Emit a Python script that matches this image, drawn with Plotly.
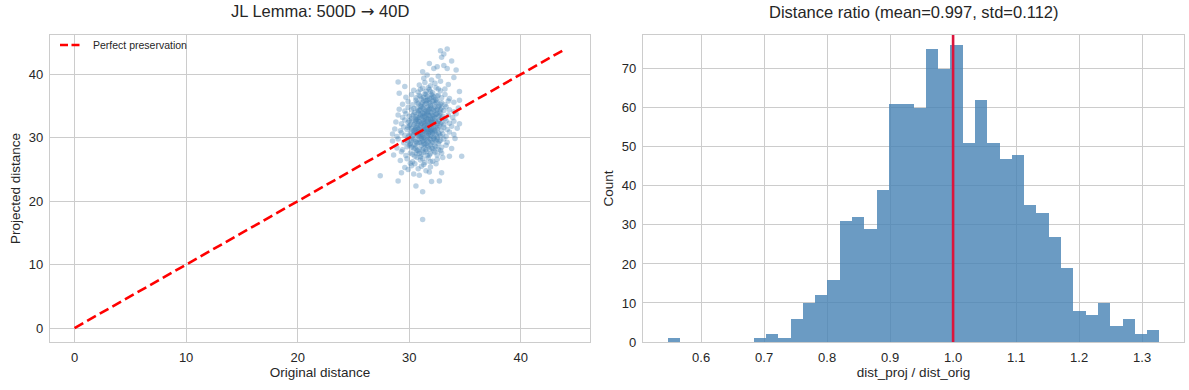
import plotly.graph_objects as go

# ---------------- data ----------------
orig_dist = [
    31.2, 31.2, 30.6,
    29.0, 32.7, 32.0, 27.4,
    29.3, 32.9, 30.4, 31.5, 30.9, 31.8,
    29.6, 30.2, 30.8, 31.3, 31.9, 32.4, 30.5, 31.1, 29.9,
    29.2, 29.8, 30.3, 30.7, 31.0, 31.4, 31.7, 32.1, 32.5, 33.0, 30.1, 31.2, 31.9,
    28.6, 29.3, 29.7, 30.1, 30.5, 30.8, 31.1, 31.3, 31.6, 31.9, 32.2, 32.5, 32.9, 33.6, 34.7, 30.3, 31.5, 30.9,
    28.9, 29.4, 29.8, 30.1, 30.4, 30.6, 30.9, 31.1, 31.3, 31.5, 31.7, 31.9, 32.1, 32.3, 32.6, 32.9, 33.3, 33.8, 30.2, 31.4, 31.8, 30.7, 32.4,
    28.5, 29.0, 29.5, 29.8, 30.1, 30.3, 30.6, 30.8, 31.0, 31.2, 31.4, 31.5, 31.7, 31.9, 32.0, 32.2, 32.4, 32.6, 32.8, 33.1, 33.4, 34.1, 30.5, 31.3, 31.8, 30.9, 32.5, 29.9,
    28.5, 28.9, 29.3, 29.6, 29.9, 30.1, 30.3, 30.5, 30.7, 30.9, 31.0, 31.2, 31.3, 31.5, 31.6, 31.8, 31.9, 32.1, 32.2, 32.4, 32.6, 32.8, 33.0, 33.3, 33.6, 34.0, 30.4, 31.1, 31.7, 32.3, 30.8,
    28.7, 29.2, 29.5, 29.8, 30.0, 30.2, 30.4, 30.6, 30.8, 30.9, 31.1, 31.2, 31.4, 31.5, 31.6, 31.8, 31.9, 32.0, 32.2, 32.3, 32.5, 32.7, 32.9, 33.1, 33.4, 33.8, 34.3, 30.5, 31.3, 31.7, 32.1, 30.7, 32.4,
    28.8, 29.3, 29.6, 29.9, 30.1, 30.3, 30.5, 30.7, 30.9, 31.0, 31.2, 31.3, 31.5, 31.6, 31.8, 31.9, 32.0, 32.2, 32.3, 32.5, 32.7, 32.9, 33.1, 33.3, 33.6, 34.0, 34.5, 30.6, 31.4, 31.7, 32.1, 30.8, 32.6,
    29.0, 29.4, 29.7, 30.0, 30.2, 30.4, 30.6, 30.8, 31.0, 31.1, 31.3, 31.4, 31.6, 31.7, 31.9, 32.0, 32.1, 32.3, 32.4, 32.6, 32.8, 33.0, 33.2, 33.5, 33.9, 34.2, 30.9, 31.5, 32.2, 31.2, 32.7,
    29.1, 29.6, 29.9, 30.2, 30.5, 30.7, 30.9, 31.1, 31.3, 31.4, 31.6, 31.7, 31.9, 32.0, 32.2, 32.3, 32.5, 32.7, 32.9, 33.1, 33.3, 33.6, 34.0, 34.4, 31.0, 31.8, 32.4,
    29.4, 29.9, 30.3, 30.6, 30.8, 31.0, 31.2, 31.4, 31.6, 31.8, 31.9, 32.1, 32.3, 32.5, 32.7, 32.9, 33.2, 33.5, 34.0, 34.5, 31.5, 32.2,
    29.7, 30.2, 30.6, 30.9, 31.1, 31.4, 31.6, 31.8, 32.0, 32.2, 32.4, 32.6, 32.9, 33.2, 33.6, 31.3, 32.1,
    29.1, 30.4, 30.8, 31.2, 31.5, 31.8, 32.1, 32.4, 32.8, 33.2, 34.5, 31.7,
    29.6, 29.0, 30.9, 31.4, 31.9, 32.3, 32.8, 33.5,
    31.3, 32.0, 32.6, 34.0, 31.6,
    31.2, 32.2, 33.4, 34.2,
    31.8, 33.1, 32.5,
    33.8, 32.9,
    32.8, 33.4, 33.1,
    # denser core
    30.6, 31.8, 32.3, 31.0,
    30.0, 31.2, 31.6, 32.0, 32.8, 30.5,
    30.2, 30.7, 31.1, 31.6, 32.1, 32.3, 31.3, 30.4, 32.7,
    30.0, 30.6, 31.0, 31.4, 31.7, 32.0, 32.5, 31.2, 30.8, 31.9, 32.7,
    29.9, 30.3, 30.6, 31.0, 31.3, 31.6, 31.9, 32.2, 32.6, 31.4, 30.9, 32.0,
    30.0, 30.4, 30.8, 31.1, 31.5, 31.7, 32.0, 32.4, 32.8, 31.3, 31.9, 30.6,
    30.3, 30.7, 31.0, 31.4, 31.8, 32.1, 32.5, 32.9, 31.6, 31.2, 32.3,
    30.4, 30.8, 31.2, 31.5, 31.9, 32.2, 32.6, 31.7, 32.8,
    30.7, 31.1, 31.5, 31.9, 32.4, 32.8, 31.3,
    31.0, 31.5, 32.0, 32.5, 31.7,
    31.0, 31.9, 32.6,
]
proj_dist = [
    17.1, 21.5, 22.4,
    23.2, 23.2, 23.1, 24.0,
    24.5, 24.5, 24.3, 24.8, 24.1, 24.6,
    25.3, 25.6, 25.1, 25.8, 25.4, 25.9, 25.9, 25.5, 25.0,
    26.4, 26.7, 26.2, 26.9, 26.5, 26.1, 26.8, 26.3, 26.6, 26.9, 26.0, 26.7, 26.2,
    27.3, 27.8, 27.2, 27.6, 27.1, 27.9, 27.4, 27.7, 27.2, 27.5, 27.9, 27.3, 27.6, 27.1, 27.1, 27.4, 27.8, 27.5,
    28.4, 28.1, 28.6, 28.9, 28.3, 28.7, 28.2, 28.8, 28.4, 28.1, 28.6, 28.9, 28.3, 28.7, 28.2, 28.5, 28.8, 28.3, 28.5, 28.9, 28.2, 28.0, 28.6,
    29.5, 29.8, 29.2, 29.6, 29.1, 29.9, 29.4, 29.7, 29.2, 29.5, 29.8, 29.1, 29.4, 29.7, 29.2, 29.9, 29.5, 29.1, 29.6, 29.8, 29.3, 29.9, 29.0, 29.6, 29.9, 29.3, 29.8, 29.4,
    30.6, 30.2, 30.8, 30.4, 30.1, 30.7, 30.3, 30.9, 30.5, 30.1, 30.8, 30.4, 30.0, 30.6, 30.2, 30.9, 30.4, 30.7, 30.1, 30.5, 30.8, 30.3, 30.6, 30.2, 30.9, 30.5, 30.5, 30.2, 30.7, 30.9, 30.3,
    31.4, 31.1, 31.7, 31.3, 31.9, 31.5, 31.1, 31.8, 31.4, 31.0, 31.6, 31.2, 31.9, 31.4, 31.0, 31.7, 31.2, 31.5, 31.8, 31.1, 31.4, 31.9, 31.2, 31.6, 31.3, 31.8, 31.5, 31.3, 31.7, 31.3, 31.0, 31.6, 31.7,
    32.5, 32.2, 32.8, 32.4, 32.0, 32.7, 32.3, 32.9, 32.5, 32.1, 32.8, 32.4, 32.0, 32.6, 32.2, 32.9, 32.5, 32.1, 32.7, 32.3, 32.8, 32.4, 32.0, 32.7, 32.3, 32.6, 32.2, 32.6, 32.3, 32.9, 32.4, 32.2, 32.6,
    33.6, 33.2, 33.8, 33.4, 33.0, 33.7, 33.3, 33.9, 33.5, 33.1, 33.8, 33.4, 33.0, 33.6, 33.2, 33.9, 33.5, 33.1, 33.7, 33.3, 33.9, 33.4, 33.0, 33.6, 33.2, 33.8, 33.2, 33.6, 33.3, 33.9, 33.5,
    34.5, 34.2, 34.8, 34.4, 34.0, 34.7, 34.3, 34.9, 34.5, 34.1, 34.8, 34.4, 34.0, 34.6, 34.2, 34.9, 34.5, 34.1, 34.7, 34.3, 34.9, 34.4, 34.1, 34.7, 34.4, 34.6, 34.3,
    35.3, 35.7, 35.2, 35.9, 35.4, 35.0, 35.6, 35.2, 35.9, 35.5, 35.1, 35.7, 35.3, 35.8, 35.0, 35.5, 35.2, 35.8, 35.6, 35.9, 35.4, 35.9,
    36.4, 36.8, 36.3, 36.7, 36.1, 36.9, 36.5, 36.2, 36.8, 36.4, 36.0, 36.7, 36.3, 36.8, 36.2, 36.4, 36.6,
    37.0, 37.5, 37.2, 37.8, 37.3, 37.6, 37.1, 37.9, 37.4, 37.7, 37.3, 37.9,
    38.1, 38.8, 38.3, 38.7, 38.2, 38.6, 38.9, 38.4,
    39.4, 39.1, 39.7, 39.5, 39.9,
    40.4, 40.9, 40.9, 40.7,
    41.7, 41.4, 41.2,
    42.1, 42.7,
    43.7, 44.0, 43.2,
    # denser core
    27.6, 27.3, 27.7, 27.0,
    28.8, 28.1, 28.8, 28.4, 28.0, 28.4,
    29.6, 29.2, 29.9, 29.6, 29.3, 29.7, 29.0, 29.7, 29.4,
    30.4, 30.7, 30.3, 30.9, 30.4, 30.2, 30.1, 30.6, 30.9, 30.9, 30.6,
    31.6, 31.2, 31.5, 31.9, 31.1, 31.6, 31.9, 31.3, 31.6, 31.4, 31.3, 31.2,
    32.7, 32.1, 32.6, 32.3, 32.8, 32.1, 32.7, 32.5, 32.2, 32.6, 32.4, 32.9,
    33.5, 33.1, 33.7, 33.2, 33.5, 33.0, 33.8, 33.1, 33.9, 33.4, 33.6,
    34.6, 34.2, 34.7, 34.3, 34.8, 34.5, 34.9, 34.1, 34.4,
    35.6, 35.3, 35.8, 35.4, 35.6, 35.3, 35.9,
    36.5, 36.8, 36.3, 36.6, 36.0,
    37.6, 37.3, 37.7,
]

ratio_counts = [1, 0, 0, 0, 0, 0, 0, 1, 2, 1, 6, 10, 12, 16, 31, 32, 29, 39, 61, 61,
                60, 75, 70, 76, 51, 62, 51, 47, 48, 35, 33, 27, 19, 8, 7, 10, 4, 6, 2, 3]
ratio_min = 0.5468
ratio_max = 1.3275
ratio_mean = 0.997
ratio_std = 0.112
reference_ratio = 1.0

left_xticks = [0, 10, 20, 30, 40]
left_yticks = [0, 10, 20, 30, 40]
right_xticks = [0.6, 0.7, 0.8, 0.9, 1.0, 1.1, 1.2, 1.3]
right_yticks = [0, 10, 20, 30, 40, 50, 60, 70]

# ---------------- style ----------------
FONT = "Liberation Sans, Arial, sans-serif"
TXT = "#262626"
GRID = "#cccccc"
STEEL = "#4682B4"

W, H = 1189, 390
ML, MR, MT, MB = 50, 5, 35, 48
PW, PH = W - ML - MR, H - MT - MB

def fx(p):   # pixel x -> paper x
    return (p - ML) / PW
def fy(p):   # pixel y -> paper y
    return (H - MB - p) / PH

left_dom = [0.0, fx(590)]
right_dom = [fx(643), 1.0]

fig = go.Figure()

fig.add_trace(go.Scatter(
    x=orig_dist, y=proj_dist, mode="markers",
    marker=dict(color=STEEL, size=5.5, opacity=0.36, line=dict(width=0)),
    showlegend=False, xaxis="x", yaxis="y", hoverinfo="skip"))

m = max(max(orig_dist), max(proj_dist))
fig.add_trace(go.Scatter(
    x=[0, m], y=[0, m], mode="lines", name="Perfect preservation",
    line=dict(color="red", width=2.6, dash="10px,4.5px"),
    showlegend=False, xaxis="x", yaxis="y"))

nb = len(ratio_counts)
bw = (ratio_max - ratio_min) / nb
centers = [ratio_min + bw * (i + 0.5) for i in range(nb)]
fig.add_trace(go.Bar(
    x=centers, y=ratio_counts, width=bw,
    marker=dict(color="rgba(70,130,180,0.8)", line=dict(width=0)),
    showlegend=False, xaxis="x2", yaxis="y2"))

fig.add_shape(type="line", xref="x2", yref="y2 domain",
              x0=reference_ratio, x1=reference_ratio, y0=0, y1=1,
              line=dict(color="crimson", width=2.6))

# legend (drawn as a short dashed sample + label, like matplotlib's)
fig.add_shape(type="line", xref="paper", yref="paper",
              x0=fx(60), x1=fx(81), y0=fy(45), y1=fy(45),
              line=dict(color="red", width=2.6, dash="8px,3.5px"))

axis_common = dict(
    showline=True, linecolor=GRID, linewidth=1.25, mirror=True,
    showgrid=True, gridcolor=GRID, gridwidth=1, zeroline=False,
    ticks="", automargin=False, ticklabelstandoff=3,
    tickfont=dict(family=FONT, size=13, color=TXT),
    title_font=dict(family=FONT, size=13.5, color=TXT),
)

lo, hi = -0.05 * m, 1.05 * m
fig.update_layout(
    template="none",
    width=W, height=H,
    margin=dict(l=ML, r=MR, t=MT, b=MB, autoexpand=False),
    paper_bgcolor="white", plot_bgcolor="white",
    font=dict(family=FONT, color=TXT),
    bargap=0, showlegend=False,
    xaxis=dict(domain=left_dom, range=[lo, hi], tickvals=left_xticks, anchor="y",
               title=dict(text="Original distance", standoff=2), **axis_common),
    yaxis=dict(domain=[0, 1], range=[lo, hi], tickvals=left_yticks, anchor="x",
               title=dict(text="Projected distance", standoff=5), **axis_common),
    xaxis2=dict(domain=right_dom, range=[ratio_min - 0.05 * (ratio_max - ratio_min),
                                         ratio_max + 0.05 * (ratio_max - ratio_min)],
                tickvals=right_xticks, tickformat=".1f", anchor="y2",
                title=dict(text="dist_proj / dist_orig", standoff=2), **axis_common),
    yaxis2=dict(domain=[0, 1], range=[0, max(ratio_counts) * 1.035], tickvals=right_yticks,
                anchor="x2", title=dict(text="Count", standoff=5), **axis_common),
    annotations=[
        dict(text="Perfect preservation", x=fx(91), y=fy(45), xref="paper", yref="paper",
             showarrow=False, xanchor="left", yanchor="middle",
             font=dict(family=FONT, size=10.5, color=TXT)),
        dict(text='JL Lemma: 500D <span style="font-family:DejaVu Sans">→</span> 40D',
             x=(left_dom[0] + left_dom[1]) / 2, y=fy(12),
             xref="paper", yref="paper", showarrow=False, xanchor="center", yanchor="middle",
             font=dict(family=FONT, size=16.5, color=TXT)),
        dict(text=f"Distance ratio (mean={ratio_mean:.3f}, std={ratio_std:.3f})",
             x=(right_dom[0] + right_dom[1]) / 2, y=fy(12),
             xref="paper", yref="paper", showarrow=False, xanchor="center", yanchor="middle",
             font=dict(family=FONT, size=16.5, color=TXT)),
    ],
)

fig.write_html(
    "out.html",
    config={"displayModeBar": False},
    post_script="document.body.style.margin='0';document.body.style.padding='0';"
                "document.body.style.overflow='hidden';",
)
